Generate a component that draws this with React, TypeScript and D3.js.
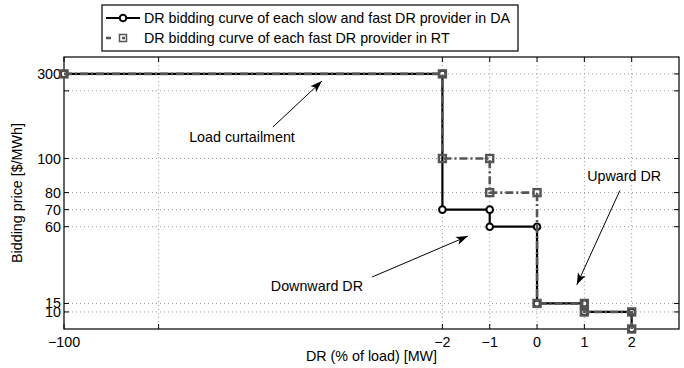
import { useEffect, useRef } from "react";
import * as d3 from "d3";

// DR quantity (% of load) [MW] and bidding price [$/MWh] for the two curves
const daDR = [-100, -2, -2, -1, -1, 0, 0, 1, 1, 2, 2];
const daPrice = [300, 300, 70, 70, 60, 60, 15, 15, 10, 10, 0];
const rtDR = [-100, -2, -2, -1, -1, 0, 0, 1, 1, 2, 2];
const rtPrice = [300, 300, 100, 100, 80, 80, 15, 15, 10, 10, 0];

const xTicks = [-100, -75.5, -2, -1, 0, 1, 2];
const xTickLabels = ["\u2212100", "", "\u22122", "\u22121", "0", "1", "2"];
const yTicks = [10, 15, 60, 70, 80, 100, 260, 300];
const yTickLabels = ["10", "15", "60", "70", "80", "100", "", "300"];

const legendLabels = [
  "DR bidding curve of each slow and fast DR provider in DA",
  "DR bidding curve of each fast DR provider in RT"
];

// annotations: [text, textX, textY, fromX, fromY, toX, toY] in data units
const notes: [string, number, number, number, number, number, number][] = [
  ["Load curtailment", -53.9, 150.8, -45.9, 174.5, -33.2, 283],
  ["Downward DR", -34.5, 25.2, -20.2, 30.5, -1.46, 54.5],
  ["Upward DR", 1.84, 89.7, 1.75, 81.2, 0.84, 25.9]
];

const FONT = "'Liberation Sans', Arial, Helvetica, sans-serif";
const FS = 14.3;
const GRAY = "#555555";

export default function App() {
  const svgRef = useRef<SVGSVGElement>(null);
  const width = 684;
  const height = 368;

  useEffect(() => {
    if (!svgRef.current) return;
    const svg = d3.select(svgRef.current);
    svg.selectAll("*").remove();

    const left = 64, right = 679, top = 57, bottom = 329;

    // broken axes: -100 squeezed next to -2, 300 squeezed above 100
    const x = d3.scaleLinear().domain([-100, -2, 3]).range([left, 442.4, right]);
    const y = d3.scaleLinear().domain([0, 100, 340]).range([bottom, 158.5, top]);

    const g = svg.append("g");

    // grid
    g.selectAll(".gx")
      .data(xTicks.slice(1))
      .join("line")
      .attr("x1", d => x(d)).attr("x2", d => x(d))
      .attr("y1", top).attr("y2", bottom)
      .attr("stroke", "#9a9a9a").attr("stroke-width", 1)
      .attr("stroke-dasharray", "1,3");
    g.selectAll(".gy")
      .data(yTicks)
      .join("line")
      .attr("x1", left).attr("x2", right)
      .attr("y1", d => y(d)).attr("y2", d => y(d))
      .attr("stroke", "#9a9a9a").attr("stroke-width", 1)
      .attr("stroke-dasharray", "1,3");

    // box
    g.append("rect")
      .attr("x", left).attr("y", top)
      .attr("width", right - left).attr("height", bottom - top)
      .attr("fill", "none").attr("stroke", "#000").attr("stroke-width", 1.2);

    // ticks on all four sides
    const tl = 5;
    xTicks.forEach(v => {
      g.append("line").attr("x1", x(v)).attr("x2", x(v))
        .attr("y1", bottom).attr("y2", bottom - tl).attr("stroke", "#000");
      g.append("line").attr("x1", x(v)).attr("x2", x(v))
        .attr("y1", top).attr("y2", top + tl).attr("stroke", "#000");
    });
    yTicks.forEach(v => {
      g.append("line").attr("x1", left).attr("x2", left + tl)
        .attr("y1", y(v)).attr("y2", y(v)).attr("stroke", "#000");
      g.append("line").attr("x1", right).attr("x2", right - tl)
        .attr("y1", y(v)).attr("y2", y(v)).attr("stroke", "#000");
    });

    // tick labels
    g.selectAll(".xl")
      .data(xTicks)
      .join("text")
      .attr("x", d => x(d))
      .attr("y", bottom + 18)
      .attr("text-anchor", "middle")
      .attr("font-family", FONT).attr("font-size", FS)
      .text((d, i) => xTickLabels[i]);
    g.selectAll(".yl")
      .data(yTicks)
      .join("text")
      .attr("x", left - 3)
      .attr("y", d => y(d) + 5)
      .attr("text-anchor", "end")
      .attr("font-family", FONT).attr("font-size", FS)
      .text((d, i) => yTickLabels[i]);

    // axis titles
    g.append("text")
      .attr("transform", `translate(22,${(top + bottom) / 2}) rotate(-90)`)
      .attr("text-anchor", "middle")
      .attr("font-family", FONT).attr("font-size", FS)
      .text("Bidding price [$/MWh]");
    g.append("text")
      .attr("x", (left + right) / 2).attr("y", 361)
      .attr("text-anchor", "middle")
      .attr("font-family", FONT).attr("font-size", FS)
      .text("DR (% of load) [MW]");

    // curves
    const daPts = daDR.map((d, i) => [x(d), y(daPrice[i])] as [number, number]);
    const rtPts = rtDR.map((d, i) => [x(d), y(rtPrice[i])] as [number, number]);

    g.append("path")
      .attr("d", d3.line()(daPts))
      .attr("fill", "none").attr("stroke", "#000").attr("stroke-width", 2.2);
    g.selectAll(".dam")
      .data(daPts)
      .join("circle")
      .attr("cx", d => d[0]).attr("cy", d => d[1]).attr("r", 3.3)
      .attr("fill", "#fff").attr("stroke", "#000").attr("stroke-width", 2);

    g.append("path")
      .attr("d", d3.line()(rtPts))
      .attr("fill", "none").attr("stroke", GRAY).attr("stroke-width", 2.6)
      .attr("stroke-dasharray", "8,3,2,3");
    g.selectAll(".rtm")
      .data(rtPts)
      .join("rect")
      .attr("x", d => d[0] - 3.5).attr("y", d => d[1] - 3.5)
      .attr("width", 7).attr("height", 7)
      .attr("fill", "none").attr("stroke", GRAY).attr("stroke-width", 2.4);

    // annotations
    const defs = svg.append("defs");
    defs.append("marker")
      .attr("id", "ah")
      .attr("viewBox", "0 0 10 10")
      .attr("refX", 10).attr("refY", 5)
      .attr("markerWidth", 12).attr("markerHeight", 12)
      .attr("markerUnits", "userSpaceOnUse")
      .attr("orient", "auto")
      .append("path")
      .attr("d", "M0,1.5 L10,5 L0,8.5 L2.5,5 Z")
      .attr("fill", "#000");

    notes.forEach(([t, tx, ty, fx, fy, ax, ay]) => {
      g.append("text")
        .attr("x", x(tx)).attr("y", y(ty) + 5)
        .attr("text-anchor", "middle")
        .attr("font-family", FONT).attr("font-size", FS)
        .text(t);
      g.append("line")
        .attr("x1", x(fx)).attr("y1", y(fy))
        .attr("x2", x(ax)).attr("y2", y(ay))
        .attr("stroke", "#000").attr("stroke-width", 1)
        .attr("marker-end", "url(#ah)");
    });

    // legend
    const lg = svg.append("g");
    lg.append("rect")
      .attr("x", 102).attr("y", 5)
      .attr("width", 416).attr("height", 46)
      .attr("fill", "#fff").attr("stroke", "#000").attr("stroke-width", 1.2);
    const rows = [18, 38];
    // row 1
    lg.append("line").attr("x1", 106).attr("x2", 140)
      .attr("y1", rows[0]).attr("y2", rows[0])
      .attr("stroke", "#000").attr("stroke-width", 2.2);
    lg.append("circle").attr("cx", 123).attr("cy", rows[0]).attr("r", 3.3)
      .attr("fill", "#fff").attr("stroke", "#000").attr("stroke-width", 2);
    // row 2
    lg.append("line").attr("x1", 106).attr("x2", 140)
      .attr("y1", rows[1]).attr("y2", rows[1])
      .attr("stroke", GRAY).attr("stroke-width", 2.4)
      .attr("stroke-dasharray", "5,11,3,20");
    lg.append("rect").attr("x", 119.5).attr("y", rows[1] - 3.5)
      .attr("width", 7).attr("height", 7)
      .attr("fill", "none").attr("stroke", GRAY).attr("stroke-width", 1.5);
    legendLabels.forEach((t, i) => {
      const txt = lg.append("text")
        .attr("x", 144).attr("y", rows[i] + 5)
        .attr("font-family", FONT).attr("font-size", FS)
        .text(t);
      if (i === 0) txt.attr("textLength", 366).attr("lengthAdjust", "spacing");
    });
  }, []);

  return (
    <div>
      <style>{`body{margin:0}`}</style>
      <svg ref={svgRef} width={width} height={height} style={{ display: "block", background: "#fff" }} />
    </div>
  );
}
